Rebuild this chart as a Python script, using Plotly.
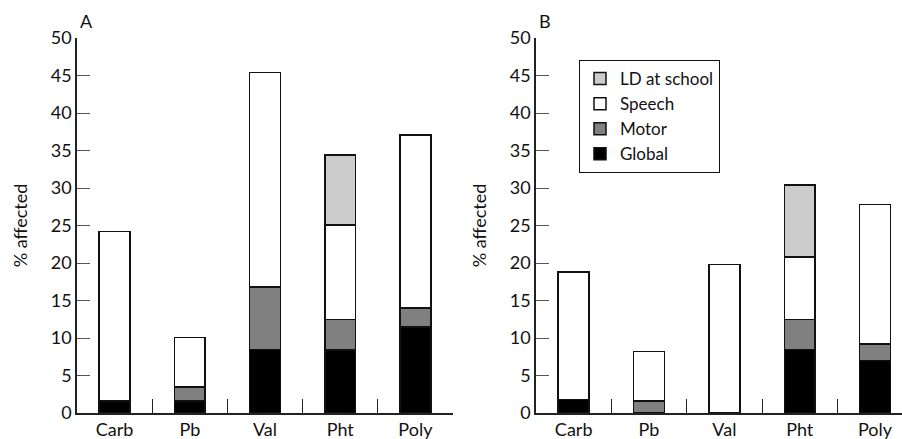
import plotly.graph_objects as go

categories = ["Carb", "Pb", "Val", "Pht", "Poly"]
series_names = ["Global", "Motor", "Speech", "LD at school"]
series_colors = ["#000000", "#808080", "#ffffff", "#cccccc"]

# Panel A (segment heights, % affected); None = segment absent
a_global = [1.6, 1.6, 8.5, 8.4, 11.5]
a_motor = [None, 1.9, 8.3, 4.1, 2.5]
a_speech = [22.6, 6.6, 28.6, 12.6, 23.1]
a_ld = [None, None, None, 9.3, None]

# Panel B
b_global = [1.8, None, None, 8.5, 7.0]
b_motor = [None, 1.6, None, 4.0, 2.2]
b_speech = [17.0, 6.6, 19.8, 8.3, 18.6]
b_ld = [None, None, None, 9.6, None]

y_ticks = [0, 5, 10, 15, 20, 25, 30, 35, 40, 45, 50]

FONT = "Lato, 'DejaVu Sans', sans-serif"
W, H = 902, 439

fig = go.Figure()
panels = [
    ("x", "y", [a_global, a_motor, a_speech, a_ld], False),
    ("x2", "y2", [b_global, b_motor, b_speech, b_ld], True),
]
for xa, ya, data, show in panels:
    for name, color, vals in zip(series_names, series_colors, data):
        fig.add_trace(go.Bar(
            x=categories, y=vals, name=name, xaxis=xa, yaxis=ya,
            marker=dict(color=color, line=dict(color="#111111", width=1.5)),
            width=0.41, showlegend=show,
        ))

ydom = [(H - 413) / H, (H - 38) / H]
axis_common = dict(
    showline=True, linecolor="#222222", linewidth=1.5,
    showgrid=False, zeroline=False, automargin=False,
    tickfont=dict(family=FONT, size=18, color="#111111"),
)
xcommon = dict(axis_common, type="category", tickson="boundaries",
               ticks="inside", ticklen=14, tickwidth=1.2, tickcolor="#222222")
ycommon = dict(axis_common, range=[0, 50], tickvals=y_ticks, ticks="inside",
               ticklen=13, tickwidth=1.2, tickcolor="#555555",
               title=dict(text="% affected", font=dict(family=FONT, size=18, color="#111111"),
                          standoff=18))

fig.update_layout(
    width=W, height=H,
    margin=dict(l=0, r=0, t=0, b=0),
    paper_bgcolor="white", plot_bgcolor="white",
    barmode="stack",
    xaxis=dict(xcommon, domain=[77 / W, 453 / W], range=[-0.5, 4.5], anchor="y"),
    yaxis=dict(ycommon, domain=ydom, anchor="x"),
    xaxis2=dict(xcommon, domain=[536 / W, 1.0], range=[-0.5, 4.5 - 10.7 / 75.3], anchor="y2"),
    yaxis2=dict(ycommon, domain=ydom, anchor="x2"),
    legend=dict(
        x=579 / W, y=1 - 60 / H, xanchor="left", yanchor="top",
        traceorder="reversed",
        bordercolor="#111111", borderwidth=1, bgcolor="white",
        font=dict(family=FONT, size=17, color="#111111"),
    ),
    annotations=[
        dict(text="A", x=78 / W, y=1 - 21 / H, xref="paper", yref="paper",
             xanchor="left", yanchor="middle", showarrow=False,
             font=dict(family=FONT, size=18, color="#111111")),
        dict(text="B", x=537 / W, y=1 - 21 / H, xref="paper", yref="paper",
             xanchor="left", yanchor="middle", showarrow=False,
             font=dict(family=FONT, size=18, color="#111111")),
    ],
)

fig.write_html("out.html", config={"displayModeBar": False},
               post_script="document.body.style.margin='0';")
